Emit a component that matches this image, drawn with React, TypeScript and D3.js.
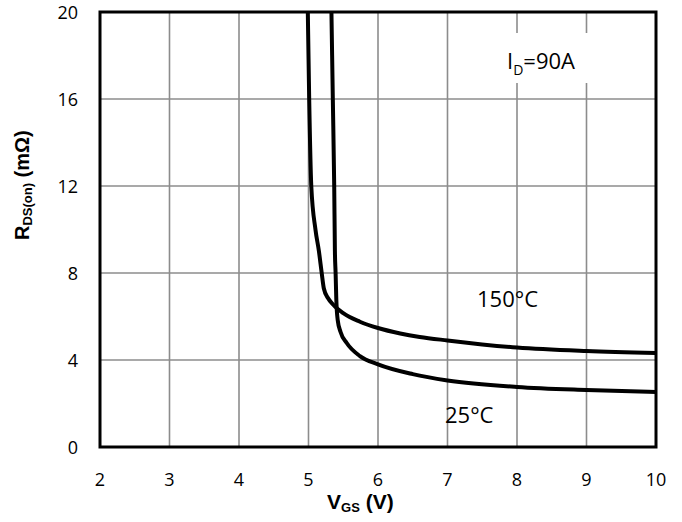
import React from "react";
import * as d3 from "d3";

const xTicks = [2, 3, 4, 5, 6, 7, 8, 9, 10];
const yTicks = [0, 4, 8, 12, 16, 20];

const vgs150 = [4.99, 5.01, 5.04, 5.1, 5.15, 5.19, 5.22, 5.28, 5.36, 5.5, 5.74, 6.0, 6.32, 6.6, 7.0, 8.0, 9.0, 10.0];
const rds150 = [20, 16, 12, 10, 9.0, 8.0, 7.3, 6.85, 6.53, 6.15, 5.76, 5.47, 5.22, 5.06, 4.9, 4.57, 4.41, 4.32];

const vgs25 = [5.33, 5.35, 5.37, 5.38, 5.39, 5.4, 5.42, 5.46, 5.55, 5.74, 6.0, 6.5, 7.0, 8.0, 9.0, 10.0];
const rds25 = [20, 16, 12, 9, 8, 6.8, 5.84, 5.3, 4.78, 4.18, 3.8, 3.35, 3.06, 2.76, 2.62, 2.53];

const W = 682;
const H = 522;
const left = 100;
const right = 656;
const top = 12;
const bottom = 447;

export default function App() {
  const x = d3.scaleLinear().domain([2, 10]).range([left, right]);
  const y = d3.scaleLinear().domain([0, 20]).range([bottom, top]);
  const line = d3
    .line<[number, number]>()
    .x((d) => x(d[0]))
    .y((d) => y(d[1]))
    .curve(d3.curveMonotoneX);
  const p150 = line(vgs150.map((v, i) => [v, rds150[i]] as [number, number])) || "";
  const p25 = line(vgs25.map((v, i) => [v, rds25[i]] as [number, number])) || "";
  const tickFont = "'Open Sans', 'Noto Sans', sans-serif";
  const titleFont = "'Liberation Sans', Arial, sans-serif";

  return (
    <svg
      width={W}
      height={H}
      style={{ position: "absolute", left: 0, top: 0, background: "#fff" }}
    >
      <rect x={0} y={0} width={W} height={H} fill="#fff" />
      <defs>
        <clipPath id="plot">
          <rect x={left} y={top} width={right - left} height={bottom - top} />
        </clipPath>
      </defs>
      {xTicks.map((t) => (
        <line key={"gx" + t} x1={x(t)} x2={x(t)} y1={top} y2={bottom} stroke="#8c8c8c" strokeWidth={1.6} />
      ))}
      {yTicks.map((t) => (
        <line key={"gy" + t} x1={left} x2={right} y1={y(t)} y2={y(t)} stroke="#8c8c8c" strokeWidth={1.6} />
      ))}
      <rect x={492} y={33} width={112} height={50} fill="#fff" />
      <g clipPath="url(#plot)">
        <path d={p150} fill="none" stroke="#000" strokeWidth={4} strokeLinejoin="round" />
        <path d={p25} fill="none" stroke="#000" strokeWidth={4} strokeLinejoin="round" />
      </g>
      <rect x={left} y={top} width={right - left} height={bottom - top} fill="none" stroke="#000" strokeWidth={3} />
      {xTicks.map((t) => (
        <text key={"tx" + t} x={x(t)} y={486} textAnchor="middle" fontFamily={tickFont} fontSize={18} fill="#000">
          {t}
        </text>
      ))}
      {yTicks.map((t) => (
        <text key={"ty" + t} x={78} y={y(t) + 6.5} textAnchor="end" fontFamily={tickFont} fontSize={18} fill="#000">
          {t}
        </text>
      ))}
      <text x={507} y={69} fontFamily={tickFont} fontSize={22} fill="#000">
        I<tspan fontSize={14} dy={6}>D</tspan>
        <tspan dy={-6}>=90A</tspan>
      </text>
      <text x={477} y={307} fontFamily={tickFont} fontSize={22} fill="#000">
        150°C
      </text>
      <text x={445} y={423} fontFamily={tickFont} fontSize={22} fill="#000">
        25°C
      </text>
      <text x={327} y={509} fontFamily={titleFont} fontSize={21} fontWeight="bold" fill="#000">
        V<tspan fontSize={13} dy={3}>GS</tspan>
        <tspan dy={-3}> (V)</tspan>
      </text>
      <text
        transform={`translate(29, 240) rotate(-90)`}
        x={0}
        y={0}
        fontFamily={titleFont}
        fontSize={20}
        fontWeight="bold"
        fill="#000"
      >
        R<tspan fontSize={13} dy={3}>DS(on)</tspan>
        <tspan dy={-3}> (mΩ)</tspan>
      </text>
    </svg>
  );
}
